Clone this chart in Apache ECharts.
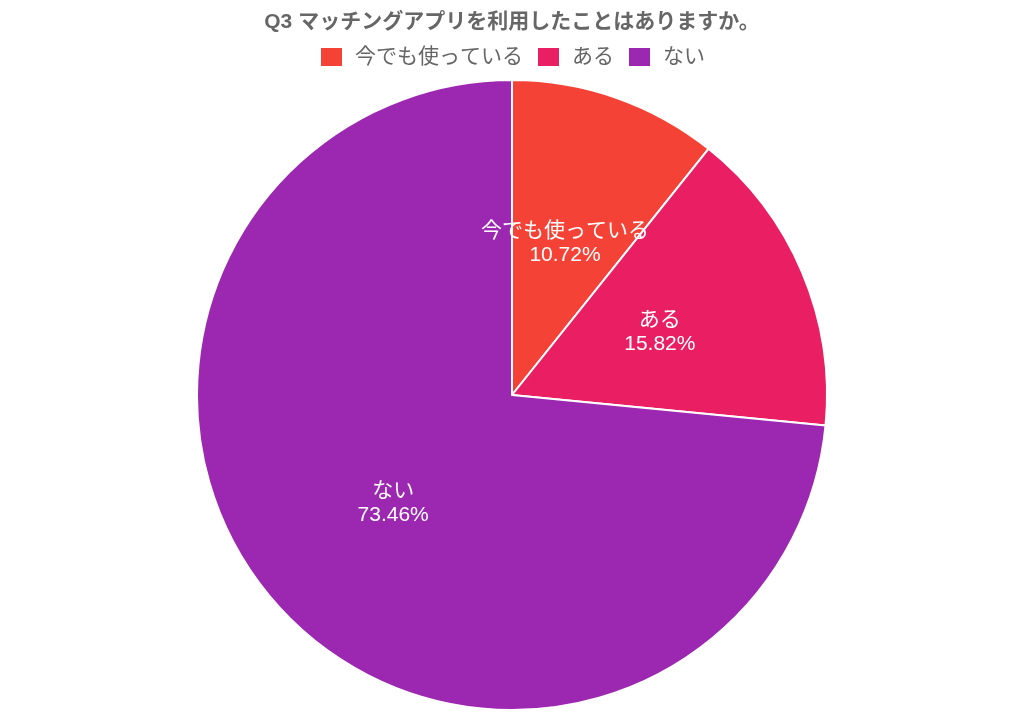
<!DOCTYPE html>
<html>
<head>
<meta charset="utf-8">
<script src="https://cdn.jsdelivr.net/npm/echarts@6/dist/echarts.min.js"></script>
<style>
	html, body { margin: 0; padding: 0; background: #fff; }
	#chart { width: 1024px; height: 714px; }
</style>
</head>
<body>
<div id="chart"></div>
<script>
var titleText = "Q3 マッチングアプリを利用したことはありますか。";
var categories = ["今でも使っている", "ある", "ない"];
var values = [10.72, 15.82, 73.46];
var colors = ["#F44336", "#E91E63", "#9C27B0"];

var font = "'Liberation Sans', 'Noto Sans CJK JP', sans-serif";

var chart = echarts.init(document.getElementById("chart"));
chart.setOption({
	animation: false,
	color: colors,
	title: {
		text: titleText,
		left: "center",
		top: 7,
		textStyle: {
			color: "#666",
			fontSize: 21,
			fontWeight: "bold",
			fontFamily: font
		}
	},
	legend: {
		data: categories,
		top: 41,
		left: "center",
		icon: "rect",
		itemWidth: 23,
		itemHeight: 20,
		itemGap: 13,
		textStyle: {
			color: "#666",
			fontSize: 21,
			fontFamily: font,
			padding: [0, 0, 0, 7]
		}
	},
	series: [{
		type: "pie",
		center: [512, 395],
		radius: [0, 315],
		startAngle: 90,
		clockwise: true,
		itemStyle: {
			borderColor: "#fff",
			borderWidth: 2
		},
		label: {
			show: true,
			position: "inside",
			color: "#fff",
			fontSize: 21,
			lineHeight: 24,
			fontFamily: font,
			formatter: function(p) {
				return p.name + "\n" + p.value.toFixed(2) + "%";
			}
		},
		labelLine: { show: false },
		emphasis: { disabled: true },
		data: categories.map(function(c, i) {
			return { name: c, value: values[i] };
		})
	}]
});
</script>
</body>
</html>
